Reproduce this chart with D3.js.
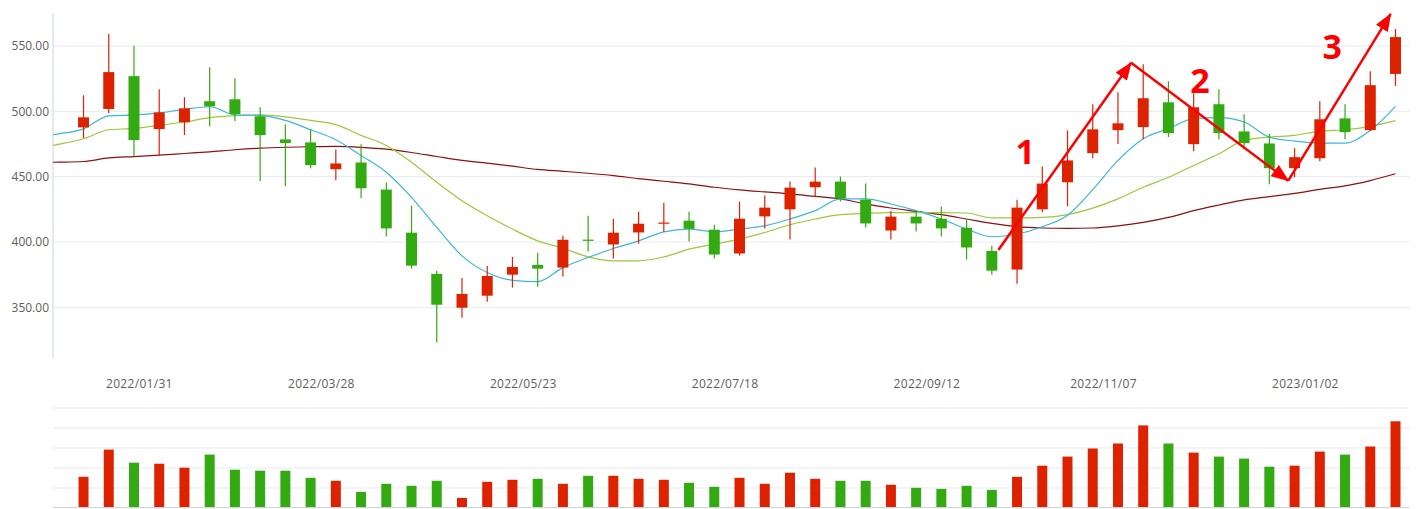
<!DOCTYPE html>
<html>
<head>
<meta charset="utf-8">
<script src="https://cdn.jsdelivr.net/npm/d3@7"></script>
<style>
  body { margin: 0; background: #fff; }
  text { font-family: "Open Sans", sans-serif; }
</style>
</head>
<body>
<div id="chart"></div>
<script>
// weekly candles (Friday of each trading week, holiday weeks skipped)
const dates = [
  "2022-01-14","2022-01-21","2022-01-28","2022-02-11","2022-02-18","2022-02-25","2022-03-04","2022-03-11",
  "2022-03-18","2022-03-25","2022-04-01","2022-04-08","2022-04-15","2022-04-22","2022-04-29","2022-05-06",
  "2022-05-13","2022-05-20","2022-05-27","2022-06-03","2022-06-10","2022-06-17","2022-06-24","2022-07-01",
  "2022-07-08","2022-07-15","2022-07-22","2022-07-29","2022-08-05","2022-08-12","2022-08-19","2022-08-26",
  "2022-09-02","2022-09-09","2022-09-16","2022-09-23","2022-09-30","2022-10-14","2022-10-21","2022-10-28",
  "2022-11-04","2022-11-11","2022-11-18","2022-11-25","2022-12-02","2022-12-09","2022-12-16","2022-12-23",
  "2022-12-30","2023-01-06","2023-01-13","2023-01-20","2023-02-03"
];
const opens = [487.7,501.8,526.9,486.4,491.6,507.7,509.2,496.2,478.5,476.2,455.7,460.8,440.1,407.1,375.6,349.7,
  358.9,375.0,382.5,380.4,401.8,398.1,407.3,414.3,416.3,409.4,391.2,419.6,425.0,441.9,446.2,432.4,
  408.8,419.4,417.8,410.9,393.2,378.9,425.0,445.7,468.0,485.6,487.9,506.9,474.9,505.4,484.6,475.4,
  456.5,464.1,494.6,485.6,528.6];
const closes = [495.4,530.0,478.0,499.2,502.3,503.8,497.9,481.8,475.7,458.8,460.1,441.1,410.4,381.9,352.0,360.2,
  374.0,380.9,379.6,401.7,401.2,407.1,414.0,414.9,410.1,390.4,417.8,426.3,441.6,446.2,433.4,414.2,
  419.4,414.2,410.4,395.8,378.1,426.3,444.7,462.4,486.2,490.8,510.0,483.3,503.1,483.3,475.7,456.5,
  464.9,493.9,484.1,520.0,556.8];
const highs = [512.3,559.1,549.9,516.9,510.8,533.8,525.3,503.1,490.0,486.2,470.8,474.7,445.5,427.8,377.9,372.5,
  381.7,388.6,391.7,404.8,420.1,417.8,423.2,430.1,423.2,413.2,430.9,435.5,446.2,457.0,450.1,444.7,
  424.0,424.0,427.0,417.3,397.1,432.4,457.8,485.4,505.4,514.6,536.1,523.0,513.8,516.9,497.7,482.6,
  471.8,507.7,505.4,530.7,563.0];
const lows = [479.5,498.7,465.7,466.4,481.8,488.5,492.5,446.5,442.6,456.5,447.2,433.4,404.2,379.6,323.0,342.0,
  354.3,365.1,365.8,373.5,392.7,387.3,398.8,407.8,400.4,387.3,389.6,410.4,401.9,435.0,431.1,411.1,
  401.9,408.1,404.2,386.6,375.0,368.1,422.7,427.3,464.1,474.9,478.7,480.3,469.5,478.7,471.0,444.2,
  449.5,461.8,478.7,484.9,519.4];
const volumes = [31.2,58.4,45.3,44.3,40.3,53.4,38.3,37.3,37.3,30.2,27.2,16.1,24.2,22.2,27.2,10.1,
  26.2,28.2,29.2,24.2,32.2,32.2,29.2,28.2,25.2,21.2,30.2,24.2,35.3,29.2,27.2,27.2,
  23.2,20.2,19.1,22.2,18.1,31.2,42.3,51.4,59.5,64.5,82.6,64.5,55.4,51.4,49.4,41.3,
  42.3,56.4,53.4,61.5,86.7];

// moving averages, two weeks before the first candle first
const maDates = ["2021-12-31","2022-01-07"].concat(dates);
const ma5 = [480.0,482.7,486.6,496.5,497.2,498.8,501.5,503.5,497.3,496.9,493.1,485.9,478.3,466.2,453.4,434.2,411.2,
  389.4,376.6,370.7,369.7,380.4,388.1,395.0,400.9,407.8,409.9,407.8,409.9,412.4,417.6,424.0,433.0,
  433.0,429.1,424.0,417.6,409.9,404.0,406.1,411.7,420.5,440.1,462.4,479.0,486.7,494.4,495.2,491.8,
  480.3,477.2,475.7,475.7,485.4,503.8];
const ma10 = [471.0,474.7,479.0,485.9,486.9,489.2,491.8,495.2,496.7,497.2,495.8,493.1,489.8,481.6,473.9,461.1,445.7,
  431.6,420.1,409.9,400.9,395.2,388.6,385.6,385.6,388.6,394.5,398.4,402.2,407.3,413.2,417.6,420.9,
  421.9,422.4,422.4,422.4,422.2,418.4,418.4,418.8,421.0,425.9,433.0,441.9,449.5,458.5,467.5,477.7,
  480.3,481.6,484.9,485.9,488.5,492.9];
const ma30 = [460.8,461.1,461.6,464.4,465.4,466.4,467.7,469.0,470.6,471.8,472.5,472.9,473.1,472.4,471.0,468.5,465.4,
  462.4,460.3,458.0,455.5,454.1,452.6,450.8,448.5,446.5,444.5,441.9,439.9,438.3,436.8,434.9,433.0,
  429.1,426.0,423.4,420.9,417.6,414.2,411.7,410.7,410.4,410.7,412.4,415.0,418.8,424.0,428.3,432.2,
  434.7,437.2,440.3,442.9,447.0,452.2];

const tickDates = ["2022-01-31","2022-03-28","2022-05-23","2022-07-18","2022-09-12","2022-11-07","2023-01-02"];
const priceTicks = [350, 400, 450, 500, 550];

// hand drawn wave annotation (candle index, price)
const waveIdx = [36.26, 41.52, 47.75, 51.81];
const wavePrice = [393.9, 537.2, 446.9, 574.5];
const waveLabels = ["1", "2", "3"];
const labelIdx = [37.32, 44.25, 49.49];
const labelPrice = [459.7, 514.0, 540.0];

const W = 1425, H = 509;
const plotLeft = 53, plotRight = 1409, plotTop = 13.3, plotBottom = 358.3;
const volTop = 408, volBottom = 508;
const UP = "#dd2200", DOWN = "#33aa11";

const parse = d3.timeParse("%Y-%m-%d");
const fmt = d3.timeFormat("%Y/%m/%d");
const dd = dates.map(parse);

let idx = d3.scaleLinear().domain([-1.21, 52.535]).range([plotLeft, plotRight]);
// piecewise time scale: each trading week gets one slot
let x = d3.scaleTime().domain(dd).range(dd.map((d, i) => idx(i)));
let y = d3.scaleLinear().domain([311, 575]).range([plotBottom, plotTop]);
let yv = d3.scaleLinear().domain([0, 100]).range([volBottom, volTop]);

let svg = d3.select("#chart").append("svg")
  .attr("width", W)
  .attr("height", H);

svg.append("clipPath").attr("id", "plot")
  .append("rect").attr("x", plotLeft).attr("y", plotTop)
  .attr("width", plotRight - plotLeft).attr("height", plotBottom - plotTop);

// price grid + labels
svg.append("g").selectAll("line")
  .data(priceTicks).enter().append("line")
  .attr("x1", plotLeft).attr("x2", plotRight)
  .attr("y1", d => y(d)).attr("y2", d => y(d))
  .attr("stroke", "#e6e9f0");

svg.append("g").selectAll("text")
  .data(priceTicks).enter().append("text")
  .attr("x", plotLeft - 4).attr("y", d => y(d))
  .attr("dy", "0.35em")
  .attr("text-anchor", "end")
  .attr("font-size", 12)
  .attr("fill", "#5e5e5e")
  .text(d => d3.format(".2f")(d));

svg.append("line")
  .attr("x1", plotLeft).attr("x2", plotLeft)
  .attr("y1", plotTop).attr("y2", plotBottom)
  .attr("stroke", "#ccd3e2");

// date labels
svg.append("g").selectAll("text")
  .data(tickDates).enter().append("text")
  .attr("x", d => x(parse(d)))
  .attr("y", 388)
  .attr("text-anchor", "middle")
  .attr("font-size", 12)
  .attr("letter-spacing", 0.3)
  .attr("fill", "#5e5e5e")
  .text(d => fmt(parse(d)));

// moving averages
let md = maDates.map(parse);
function maLine(vals, color) {
  let line = d3.line()
    .x((d, i) => x(md[i]))
    .y(d => y(d))
    .curve(d3.curveMonotoneX);
  svg.append("path")
    .attr("clip-path", "url(#plot)")
    .attr("d", line(vals))
    .attr("fill", "none")
    .attr("stroke", color)
    .attr("stroke-width", 1.2);
}
maLine(ma30, "#8b1010");
maLine(ma10, "#9cc83a");
maLine(ma5, "#3cb6da");

// candles
let candle = svg.append("g").selectAll("g")
  .data(dates).enter().append("g");

candle.append("line")
  .attr("x1", (d, i) => x(dd[i])).attr("x2", (d, i) => x(dd[i]))
  .attr("y1", (d, i) => y(highs[i])).attr("y2", (d, i) => y(lows[i]))
  .attr("stroke", (d, i) => closes[i] >= opens[i] ? UP : DOWN)
  .attr("stroke-width", 1.2);

candle.append("rect")
  .attr("x", (d, i) => x(dd[i]) - 5.5)
  .attr("width", 11)
  .attr("y", (d, i) => y(Math.max(opens[i], closes[i])))
  .attr("height", (d, i) => Math.max(1.2, Math.abs(y(opens[i]) - y(closes[i]))))
  .attr("fill", (d, i) => closes[i] >= opens[i] ? UP : DOWN);

// volume panel
svg.append("g").selectAll("line")
  .data([20, 40, 60, 80, 100]).enter().append("line")
  .attr("x1", plotLeft).attr("x2", plotRight)
  .attr("y1", d => yv(d)).attr("y2", d => yv(d))
  .attr("stroke", "#e6e9f0");

svg.append("g").selectAll("rect")
  .data(volumes).enter().append("rect")
  .attr("x", (d, i) => x(dd[i]) - 5)
  .attr("width", 10)
  .attr("y", d => yv(d))
  .attr("height", d => yv(0) - yv(d))
  .attr("fill", (d, i) => closes[i] >= opens[i] ? UP : DOWN);

svg.append("line")
  .attr("x1", plotLeft).attr("x2", plotRight)
  .attr("y1", volBottom - 0.5).attr("y2", volBottom - 0.5)
  .attr("stroke", "#ccd3e2");

// wave annotation
svg.append("defs").append("marker")
  .attr("id", "head")
  .attr("markerUnits", "userSpaceOnUse")
  .attr("markerWidth", 18).attr("markerHeight", 14)
  .attr("refX", 17).attr("refY", 7)
  .attr("orient", "auto")
  .append("path")
  .attr("d", "M0,0 L18,7 L0,14 Z")
  .attr("fill", "#ff0000");

for (let i = 0; i < waveIdx.length - 1; i++) {
  svg.append("line")
    .attr("x1", idx(waveIdx[i])).attr("y1", y(wavePrice[i]))
    .attr("x2", idx(waveIdx[i + 1])).attr("y2", y(wavePrice[i + 1]))
    .attr("stroke", "#ff0000")
    .attr("stroke-width", 2.5)
    .attr("marker-end", "url(#head)");
}

svg.append("g").selectAll("text")
  .data(waveLabels).enter().append("text")
  .attr("x", (d, i) => idx(labelIdx[i]))
  .attr("y", (d, i) => y(labelPrice[i]))
  .attr("text-anchor", "middle")
  .attr("font-family", "'Liberation Sans', Arial, sans-serif")
  .attr("font-weight", "bold")
  .attr("font-size", 34)
  .attr("fill", "#ff0000")
  .text(d => d);
</script>
</body>
</html>
